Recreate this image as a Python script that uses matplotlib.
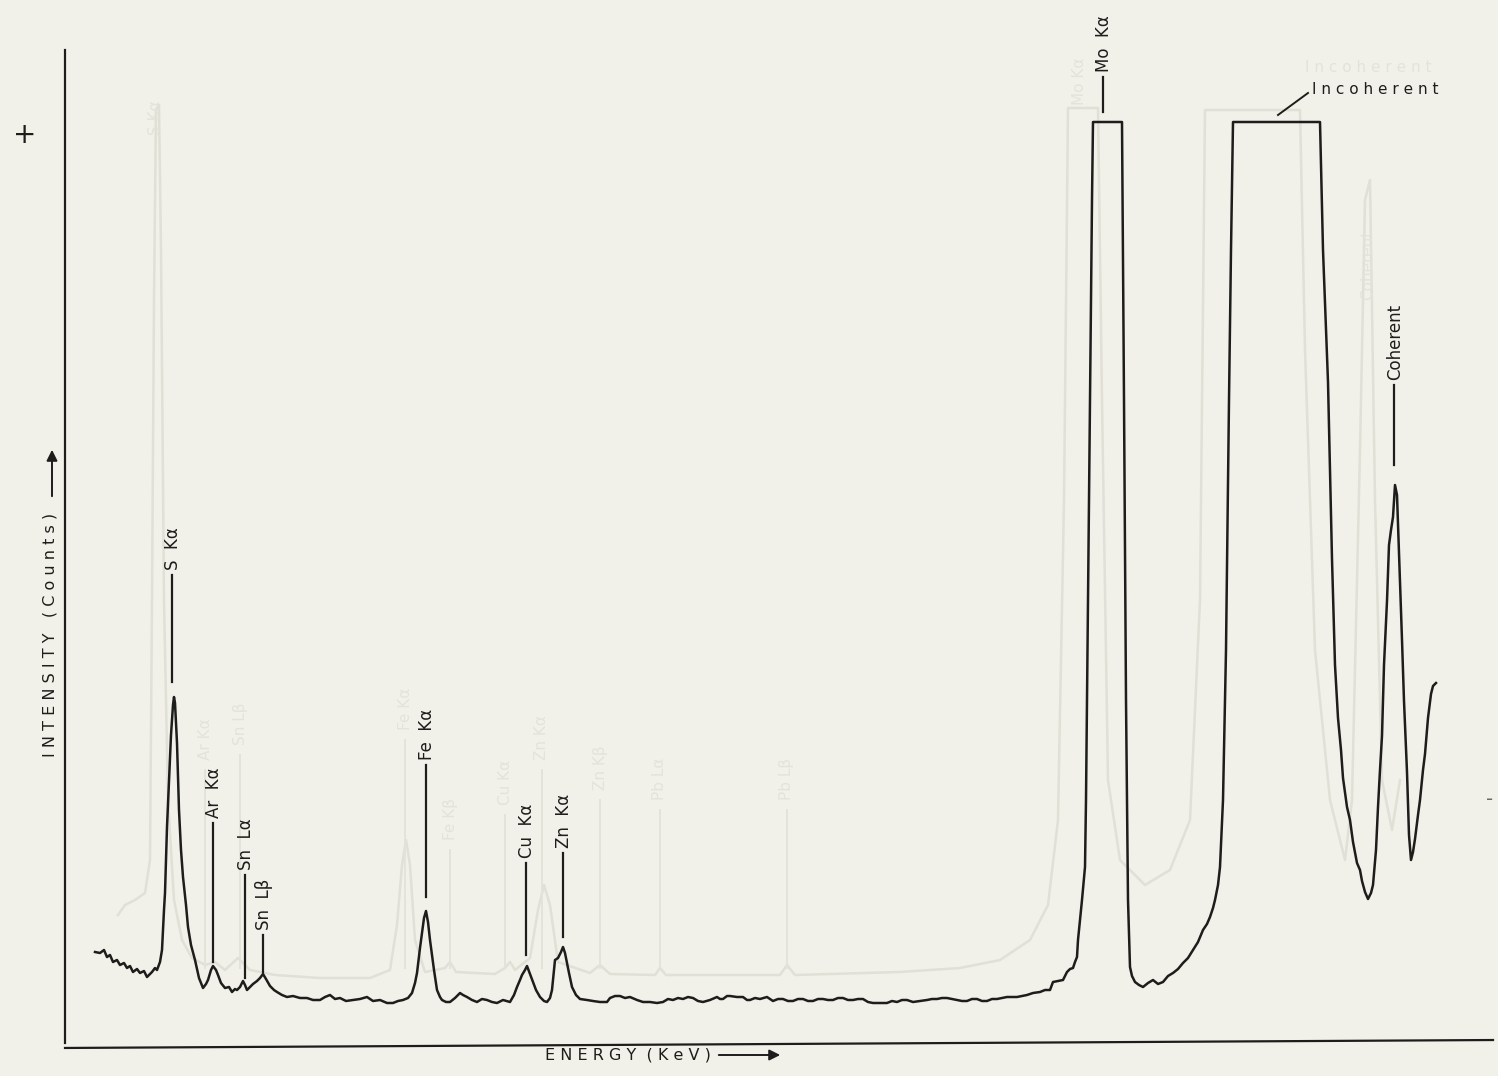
import matplotlib
matplotlib.use('Agg')
import matplotlib.pyplot as plt
import numpy as np

""" Spectrum data (channel, counts) read off the chart """

channel = [30, 35, 39, 42, 45, 48, 52, 55, 59, 62, 65, 68, 72, 75, 79, 82, 85, 87, 90, 92,
           95, 97, 99, 100, 102, 104, 106, 108, 109, 110, 112, 114, 116, 118, 121, 123, 126, 130,
           134, 138, 141, 143, 146, 148, 151, 153, 156, 160, 164, 167, 170, 172, 175, 178, 180,
           182, 185, 188, 192, 195, 198, 201, 205, 209, 212, 217, 222, 228, 235, 242, 248, 255,
           260, 265, 270, 275, 281, 288, 295, 302, 308, 315, 322, 328, 333, 338, 343, 347, 350,
           352, 355, 357, 359, 361, 363, 365, 367, 369, 372, 375, 377, 381, 385, 390, 395, 398,
           402, 407, 412, 417, 422, 427, 432, 438, 445, 449, 452, 455, 457, 460, 462, 465, 468,
           471, 475, 479, 482, 485, 487, 489, 490, 493, 496, 498, 500, 502, 504, 507, 511, 515,
           522, 528, 535, 542, 545, 550, 555, 560, 565, 572, 578, 585, 592, 598, 603, 608, 613,
           618, 623, 628, 633, 638, 645, 652, 655, 658, 662, 665, 672, 678, 682, 685, 690, 695,
           702, 708, 713, 718, 723, 728, 733, 738, 743, 748, 753, 758, 763, 768, 773, 778, 783,
           788, 793, 798, 803, 808, 815, 822, 827, 832, 837, 842, 848, 855, 862, 867, 872, 877,
           882, 887, 892, 897, 902, 907, 912, 917, 922, 927, 932, 937, 942, 947, 952, 957, 962,
           968, 975, 980, 985, 988, 993, 998, 1002, 1005, 1008, 1010, 1012, 1013, 1017, 1020,
           1021, 1023, 1025, 1027, 1028, 1057, 1059, 1061, 1062, 1063, 1065, 1067, 1070, 1074,
           1078, 1083, 1088, 1093, 1098, 1103, 1108, 1113, 1118, 1123, 1128, 1133, 1138, 1142,
           1145, 1148, 1150, 1153, 1155, 1158, 1161, 1164, 1166, 1168, 1255, 1258, 1263, 1267,
           1270, 1273, 1276, 1278, 1282, 1285, 1288, 1292, 1295, 1297, 1300, 1303, 1306, 1308,
           1311, 1313, 1315, 1317, 1319, 1322, 1324, 1326, 1328, 1330, 1332, 1334, 1336, 1337,
           1339, 1342, 1344, 1346, 1348, 1350, 1353, 1355, 1358, 1360, 1363, 1366, 1368, 1371]
counts = [91, 90, 93, 86, 88, 81, 83, 78, 80, 75, 77, 71, 74, 70, 72, 66, 69, 71, 75, 73,
          81, 93, 133, 150, 216, 263, 308, 338, 346, 340, 300, 233, 193, 166, 138, 116, 98, 83,
          65, 55, 59, 63, 73, 77, 73, 68, 60, 55, 56, 51, 54, 53, 56, 62, 58,
          53, 56, 59, 62, 65, 69, 64, 57, 53, 51, 48, 46, 47, 45, 45, 43, 43,
          46, 48, 44, 45, 42, 43, 44, 46, 42, 43, 40, 40, 42, 43, 45, 50, 60,
          70, 95, 110, 125, 132, 121, 103, 88, 73, 53, 46, 43, 41, 41, 45, 50, 48,
          46, 43, 41, 44, 43, 41, 40, 43, 41, 48, 56, 63, 68, 73, 77, 69, 61,
          53, 46, 42, 41, 45, 53, 73, 83, 85, 91, 96, 90, 80, 70, 56, 48, 44,
          43, 42, 41, 41, 45, 47, 47, 45, 46, 43, 41, 41, 40, 41, 44, 43, 45,
          44, 46, 45, 42, 41, 43, 46, 44, 44, 47, 47, 46, 46, 43, 43, 45, 44,
          46, 42, 44, 44, 42, 42, 44, 44, 42, 42, 44, 44, 43, 43, 45, 45, 43,
          43, 44, 44, 41, 40, 40, 40, 42, 41, 43, 43, 41, 42, 43, 44, 44, 45,
          45, 44, 43, 42, 42, 44, 44, 42, 42, 44, 44, 45, 46, 46, 46, 47, 48,
          50, 51, 53, 53, 61, 62, 63, 71, 74, 75, 81, 86, 103, 143, 176,
          243, 443, 643, 843, 921, 921, 643, 343, 243, 143, 76, 67, 61, 58,
          56, 60, 63, 59, 61, 67, 70, 74, 80, 85, 93, 101, 113, 119,
          126, 135, 143, 158, 176, 243, 393, 643, 793, 921, 921, 793, 661, 484,
          378, 325, 293, 265, 236, 223, 201, 180, 173, 162, 151, 144, 150, 158,
          193, 236, 273, 307, 378, 442, 498, 513, 526, 558, 548, 491, 433, 403,
          342, 271, 208, 183, 191, 204, 228, 243, 273, 289, 325, 349, 357, 360]

# faint show-through of the spectrum printed on the other side of the page
ghost_channel = [53, 60, 70, 80, 85, 87, 89, 91, 94, 96, 99, 103, 109, 117, 127, 140, 150, 160,
                 173, 185, 210, 255, 305, 325, 332, 337, 341, 345, 350, 360, 380, 385, 391, 430,
                 440, 445, 450, 465, 473, 479, 485, 493, 525, 535, 545, 590, 595, 601, 715, 722,
                 730, 835, 895, 935, 965, 983, 993, 999, 1003, 1033, 1037, 1043, 1055, 1080,
                 1105, 1125, 1135, 1140, 1235, 1240, 1250, 1265, 1280, 1287, 1295, 1300, 1305,
                 1310, 1317, 1327, 1335]
ghost_counts = [128, 138, 143, 150, 183, 443, 743, 933, 938, 793, 443, 243, 143, 103, 85, 78, 81,
                73, 85, 73, 68, 65, 65, 73, 118, 178, 203, 178, 103, 71, 75, 81, 71, 69,
                75, 81, 73, 85, 133, 158, 138, 81, 70, 78, 69, 68, 75, 68, 68, 78,
                68, 71, 75, 83, 103, 138, 223, 543, 935, 935, 643, 263, 183, 158,
                173, 223, 443, 933, 933, 693, 393, 243, 183, 243, 593, 843, 863,
                543, 263, 213, 263]

peak_names = ['S Kα', 'Ar Kα', 'Sn Lα', 'Sn Lβ', 'Fe Kα', 'Cu Kα', 'Zn Kα', 'Mo Kα', 'Coherent']
peak_channel = [107, 148, 180, 198, 361, 461, 498, 1038, 1329]
peak_line_low = [361, 81, 65, 71, 146, 88, 106, 931, 578]
peak_line_high = [468, 220, 168, 108, 278, 180, 190, 966, 658]

ghost_names = ['S Kα', 'Ar Kα', 'Sn Lβ', 'Fe Kα', 'Fe Kβ', 'Cu Kα', 'Zn Kα', 'Zn Kβ',
               'Pb Lα', 'Pb Lβ', 'Mo Kα', 'Coherent']
ghost_label_channel = [90, 140, 175, 340, 385, 440, 477, 535, 595, 722, 1015, 1303]
ghost_label_base = [908, 283, 298, 313, 203, 238, 283, 253, 243, 243, 938, 743]

""" Plot """

ink = '#1d1d1b'
ghost = '#e1e0d7'
ghost_txt = '#e4e3da'
paper = '#f2f1e9'

fig = plt.figure(figsize=(14.98, 10.76), dpi=100, facecolor=paper)
ax = fig.add_axes([65 / 1498., 33 / 1076., 1428 / 1498., 993 / 1076.])
ax.set_facecolor(paper)

# ghost layer
ax.plot(ghost_channel, ghost_counts, color=ghost, lw=1.8, zorder=1)
for name, ch, base in zip(ghost_names, ghost_label_channel, ghost_label_base):
    ax.text(ch, base, name, rotation=90, ha='center', va='bottom', fontsize=11,
            color=ghost_txt, zorder=1)
    if base < 900 and name != 'Coherent':
        ax.plot([ch, ch], [base - 10, 75], color=ghost_txt, lw=1.4, zorder=1)
ax.text(1240, 975, 'I n c o h e r e n t', fontsize=11, color=ghost_txt, va='center', zorder=1)

# spectrum
ax.plot(channel, counts, color=ink, lw=1.8, zorder=3, solid_joinstyle='round')

# peak labels
for name, ch, lo, hi in zip(peak_names, peak_channel, peak_line_low, peak_line_high):
    ax.plot([ch, ch], [lo, hi], color=ink, lw=1.6, zorder=3)
    ax.text(ch + 1, hi + 5, name.replace(' ', '  '), rotation=90, ha='center', va='bottom',
            fontsize=12, color=ink, zorder=4)

ax.plot([1213, 1243], [928, 950], color=ink, lw=1.4, zorder=3)
ax.text(1247, 953, 'I n c o h e r e n t', fontsize=11, color=ink, va='center', zorder=4)

ax.set_xlim(0, 1428)
ax.set_ylim(0, 993)
ax.set_xticks([])
ax.set_yticks([])
ax.spines['right'].set_visible(False)
ax.spines['top'].set_visible(False)
ax.spines['bottom'].set_visible(False)
ax.spines['left'].set_color(ink)
ax.spines['left'].set_linewidth(1.6)
# the drawn x axis is slightly skewed on the sheet
ax.plot([0, 1], [-0.005, 0.003], transform=ax.transAxes, color=ink, lw=1.6, clip_on=False)

# axis labels with hand drawn arrows
fig.text(50 / 1498., 441 / 1076., 'I N T E N S I T Y   ( C o u n t s )', rotation=90,
         ha='center', va='center', fontsize=11.5, color=ink)
ax.annotate('', xy=(52, 629), xytext=(52, 577), xycoords='figure pixels',
            textcoords='figure pixels',
            arrowprops=dict(arrowstyle='-|>', color=ink, lw=1.4, mutation_scale=16))
fig.text(545 / 1498., 21 / 1076., 'E N E R G Y  ( K e V )', ha='left', va='center',
         fontsize=11.5, color=ink)
ax.annotate('', xy=(783, 21), xytext=(716, 21), xycoords='figure pixels',
            textcoords='figure pixels',
            arrowprops=dict(arrowstyle='-|>', color=ink, lw=1.4, mutation_scale=16))

# registration marks on the sheet
fig.text(25 / 1498., (1076 - 135) / 1076., '+', ha='center', va='center', fontsize=20,
         color=ink)
fig.text(1490 / 1498., (1076 - 800) / 1076., '-', ha='center', va='center', fontsize=14,
         color='#6a6a66')

fig.savefig('out.png', dpi=100, facecolor=paper)
